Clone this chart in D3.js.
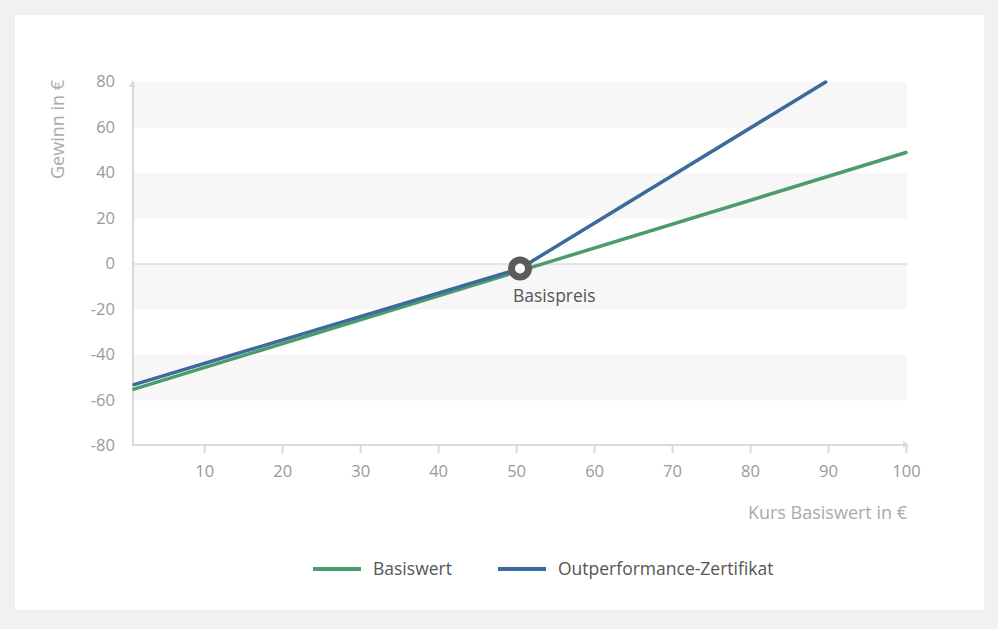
<!DOCTYPE html>
<html><head><meta charset="utf-8">
<script src="https://cdn.jsdelivr.net/npm/d3@7"></script>
<style>
html,body{margin:0;padding:0;background:#f1f1f1;}
svg{display:block;font-family:"Open Sans","Noto Sans",sans-serif;}
</style></head>
<body><svg id="c" width="998" height="629"></svg>
<script>
const xTicks = [10,20,30,40,50,60,70,80,90,100];
const yTicks = [-80,-60,-40,-20,0,20,40,60,80];
const bandRanges = [[60,80],[20,40],[-20,0],[-60,-40]];
const basiswert = [{x:1,y:-55},{x:100,y:49}];
const outperformance = [{x:1,y:-53},{x:50.5,y:-2},{x:89.7,y:80}];
const basispreis = {x:50.5,y:-2,label:"Basispreis"};
const seriesNames = ["Basiswert","Outperformance-Zertifikat"];
const seriesColors = ["#4a9c6b","#3d6a9c"];

const svg = d3.select("#c");
svg.append("rect").attr("x",14).attr("y",14).attr("width",971).attr("height",597).attr("fill","#fff").attr("stroke","#e9e9e9");

const x = d3.scaleLinear().domain([1,100]).range([134,906]);
const y = d3.scaleLinear().domain([-80,80]).range([446,82]);

// bands
svg.selectAll("rect.band").data(bandRanges).enter().append("rect")
  .attr("class","band").attr("x",x(1)).attr("width",907-x(1))
  .attr("y",d=>y(d[1])).attr("height",d=>y(d[0])-y(d[1])).attr("fill","#f7f7f7");
// zero line
svg.append("line").attr("x1",x(1)).attr("x2",907).attr("y1",y(0)).attr("y2",y(0)).attr("stroke","#dcdcdc").attr("stroke-width",1.5);

// axes
const axisColor = "#d9d9d9";
const fmt = d => String(d);
const xAxis = svg.append("g").attr("transform",`translate(0,${y(-80)-1})`)
  .call(d3.axisBottom(x).tickValues(xTicks).tickFormat(fmt).tickSize(8).tickPadding(12));
xAxis.select(".domain").remove();
xAxis.selectAll(".tick line").attr("stroke",axisColor).attr("stroke-width",2);
xAxis.selectAll(".tick text").attr("fill","#999").attr("font-size",16.5).attr("font-family","'Open Sans',sans-serif");
svg.append("line").attr("x1",x(1)-1).attr("x2",903).attr("y1",y(-80)-1).attr("y2",y(-80)-1).attr("stroke",axisColor).attr("stroke-width",2);
svg.append("path").attr("d",`M903,${y(-80)-5} L909,${y(-80)-1} L903,${y(-80)+1}Z`).attr("fill",axisColor);

const yAxis = svg.append("g").attr("transform",`translate(${x(1)-1},0)`)
  .call(d3.axisLeft(y).tickValues(yTicks).tickFormat(fmt).tickSize(0).tickPadding(18));
yAxis.select(".domain").remove();
yAxis.selectAll(".tick text").attr("fill","#999").attr("font-size",16.5).attr("dy","0.3em").attr("font-family","'Open Sans',sans-serif");
svg.append("line").attr("x1",x(1)-1).attr("x2",x(1)-1).attr("y1",y(-80)).attr("y2",86).attr("stroke",axisColor).attr("stroke-width",2);
svg.append("path").attr("d",`M${x(1)-5},87 L${x(1)-1},80 L${x(1)+1},87Z`).attr("fill",axisColor);

// axis titles
svg.append("text").attr("transform","translate(64,80) rotate(-90)").attr("text-anchor","end")
  .attr("fill","#aaa").attr("font-size",18).text("Gewinn in €");
svg.append("text").attr("x",907).attr("y",519).attr("text-anchor","end")
  .attr("fill","#aaa").attr("font-size",18).text("Kurs Basiswert in €");

// lines
const line = d3.line().x(d=>x(d.x)).y(d=>y(d.y));
[basiswert,outperformance].forEach((s,i)=>{
  svg.append("path").datum(s).attr("d",line).attr("fill","none")
    .attr("stroke",seriesColors[i]).attr("stroke-width",3.5).attr("stroke-linecap","round");
});

// marker
svg.append("circle").attr("cx",x(basispreis.x)).attr("cy",y(basispreis.y)).attr("r",8.5)
  .attr("fill","#fff").attr("stroke","#5b5b5b").attr("stroke-width",7);
svg.append("text").attr("x",x(basispreis.x)-7).attr("y",y(basispreis.y)+33)
  .attr("fill","#555").attr("font-size",17.5).text(basispreis.label);

// legend
const legendX = [313,498];
seriesNames.forEach((n,i)=>{
  svg.append("line").attr("x1",legendX[i]).attr("x2",legendX[i]+48).attr("y1",569).attr("y2",569)
    .attr("stroke",seriesColors[i]).attr("stroke-width",4);
  svg.append("text").attr("x",legendX[i]+60).attr("y",575).attr("fill","#555").attr("font-size",17.5).text(n);
});
</script></body></html>
